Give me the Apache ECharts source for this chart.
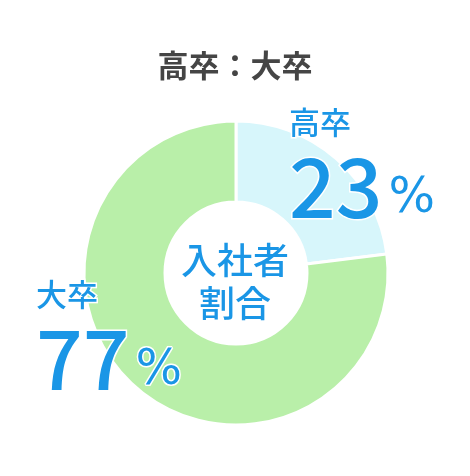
<!DOCTYPE html>
<html><head><meta charset="utf-8">
<script src="https://cdn.jsdelivr.net/npm/echarts@6/dist/echarts.min.js"></script>
<style>html,body{margin:0;padding:0;background:#fff}#c{width:470px;height:476px}</style>
</head><body><div id="c"></div>
<script>
const titleText = '高卒：大卒';
const centerText = '入社者\n割合';
const categories = ['高卒', '大卒'];
const values = [23, 77];
const colors = ['#d7f6fb', '#b9efa9'];
const labelPos = [[289, 104], [36, 276]];

const chart = echarts.init(document.getElementById('c'));
const font = '"Noto Sans CJK JP", "Noto Sans", sans-serif';
chart.setOption({
  animation: false,
  title: {
    text: titleText, left: 'center', top: 45,
    textStyle: { fontFamily: font, fontSize: 31, fontWeight: 'bold', color: '#454545' }
  },
  graphic: [{
    type: 'text', left: 'center', top: 239, z: 10,
    style: {
      text: centerText, fill: '#1a96e6', font: '500 36px ' + font,
      textAlign: 'center', lineHeight: 43
    }
  }],
  series: [{
    type: 'pie',
    center: [236, 273],
    radius: [71, 152],
    startAngle: 90,
    clockwise: true,
    silent: true,
    itemStyle: { borderColor: '#fff', borderWidth: 3 },
    labelLine: { show: false },
    label: {
      show: true,
      position: 'outside',
      overflow: 'none',
      width: 200,
      formatter: p => '{n|' + p.name + '}\n{v|' + p.value + '}{p|%}',
      fontFamily: font,
      color: '#1a96e6',
      textBorderColor: '#fff',
      textBorderWidth: 3,
      align: 'left',
      rich: {
        n: { fontFamily: font, fontSize: 31, fontWeight: 500, color: '#1a96e6', lineHeight: 36, textBorderColor: '#fff', textBorderWidth: 3 },
        v: { fontFamily: font, fontSize: 82, fontWeight: 500, color: '#1a96e6', lineHeight: 88, textBorderColor: '#fff', textBorderWidth: 3, verticalAlign: 'bottom' },
        p: { fontFamily: '"DejaVu Sans", sans-serif', fontSize: 49, fontWeight: 'normal', color: '#1a96e6', lineHeight: 76, textBorderColor: '#fff', textBorderWidth: 3, verticalAlign: 'bottom', padding: [0, 0, 4, 6] }
      }
    },
    labelLayout: params => ({
      x: labelPos[params.dataIndex][0],
      y: labelPos[params.dataIndex][1],
      align: 'left',
      verticalAlign: 'top'
    }),
    data: categories.map((c, i) => ({ name: c, value: values[i], itemStyle: { color: colors[i] } }))
  }]
});
</script></body></html>
